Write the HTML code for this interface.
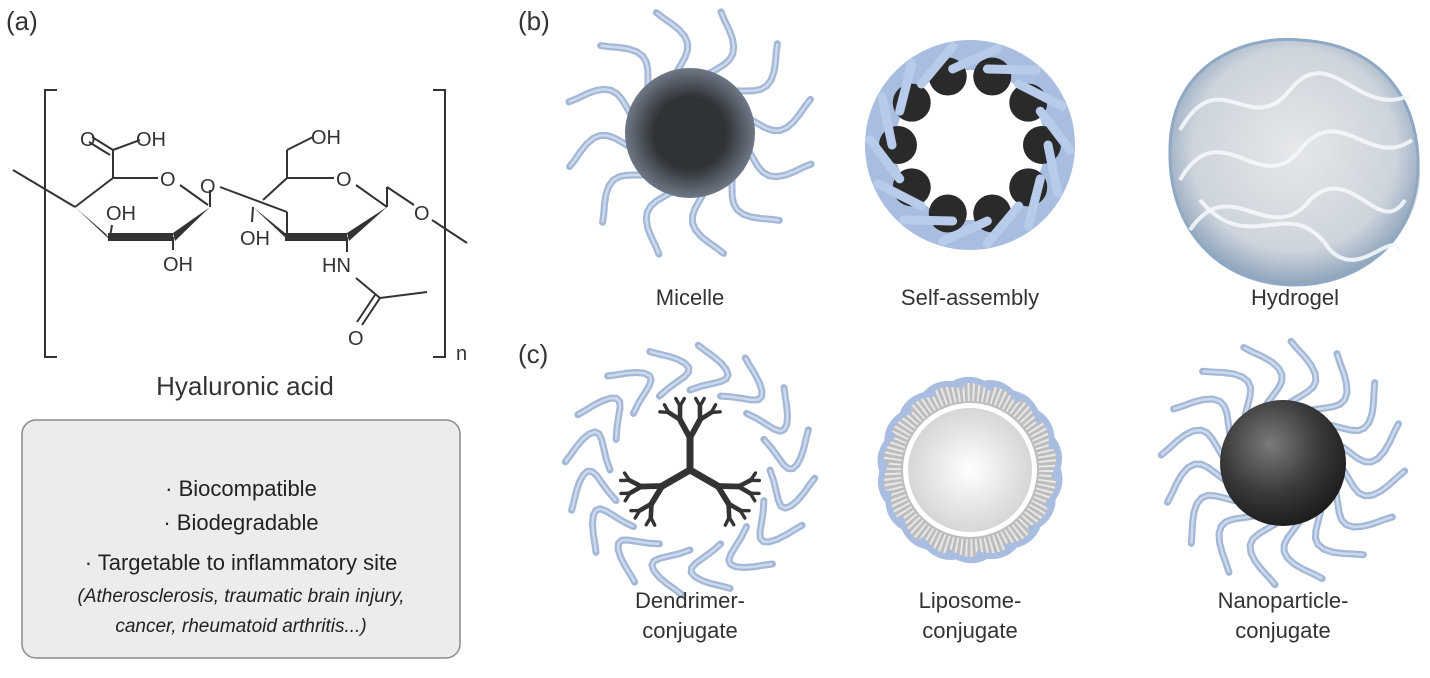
<!DOCTYPE html>
<html><head><meta charset="utf-8"><style>
body{margin:0;background:#fff;width:1430px;height:678px;overflow:hidden;font-family:"Liberation Sans",sans-serif;}
svg{position:absolute;left:0;top:0}
</style></head><body>
<svg id="s" width="1430" height="678" viewBox="0 0 1430 678" xmlns="http://www.w3.org/2000/svg">
<defs>
<radialGradient id="mic" cx="50%" cy="50%" r="50%"><stop offset="0.55" stop-color="#2f3236"/><stop offset="1" stop-color="#6e7885"/></radialGradient>
<radialGradient id="np" cx="40%" cy="35%" r="65%"><stop offset="0" stop-color="#7a7a7a"/><stop offset="0.6" stop-color="#3a3a3a"/><stop offset="1" stop-color="#1e1e1e"/></radialGradient>
<radialGradient id="lip" cx="50%" cy="50%" r="50%"><stop offset="0" stop-color="#ffffff"/><stop offset="1" stop-color="#d6d6d6"/></radialGradient>
<radialGradient id="hyd" cx="50%" cy="45%" r="55%"><stop offset="0" stop-color="#e6e8ea"/><stop offset="0.75" stop-color="#cdd4dc"/><stop offset="1" stop-color="#8ea4bb"/></radialGradient>
</defs>
<g font-size="26" fill="#333">
<text x="6" y="30">(a)</text><text x="518" y="30">(b)</text><text x="518" y="363">(c)</text>
</g>
<g stroke="#333" stroke-width="2" fill="none">
<polyline points="57,90 45,90 45,357 57,357"/>
<polyline points="433,90 445,90 445,357 433,357"/>
<line x1="13" y1="170" x2="75" y2="207"/>
<line x1="75" y1="207" x2="113" y2="178"/>
<line x1="113" y1="178" x2="158" y2="178"/>
<line x1="180" y1="185" x2="208" y2="205"/>
<line x1="113" y1="178" x2="113" y2="150"/>
<line x1="113" y1="150" x2="140" y2="140"/>
<line x1="113" y1="150" x2="92" y2="137"/><line x1="110" y1="155" x2="89" y2="142"/>
<line x1="110" y1="237" x2="112" y2="225"/>
<line x1="173" y1="237" x2="173" y2="250"/>
<line x1="210" y1="207" x2="210" y2="190"/>
<line x1="220" y1="187" x2="287" y2="212"/><line x1="287" y1="212" x2="287" y2="237"/>
<line x1="263" y1="200" x2="287" y2="178"/>
<line x1="287" y1="178" x2="334" y2="178"/>
<line x1="356" y1="185" x2="387" y2="207"/>
<line x1="287" y1="178" x2="287" y2="150"/><line x1="287" y1="150" x2="313" y2="137"/>
<line x1="253" y1="207" x2="252" y2="222"/>
<line x1="387" y1="207" x2="387" y2="187"/><line x1="387" y1="187" x2="414" y2="205"/>
<line x1="432" y1="220" x2="467" y2="243"/>
<line x1="347" y1="237" x2="347" y2="252"/>
<line x1="356" y1="278" x2="380" y2="298"/><line x1="380" y1="298" x2="427" y2="292"/>
<line x1="380" y1="298" x2="362" y2="325"/><line x1="375" y1="295" x2="357" y2="322"/>
</g>
<g fill="#333">
<polygon points="75,207 110,240 106,234"/>
<polygon points="108,233 173,233 173,241 108,241"/>
<polygon points="173,233 210,207 175,241"/>
<polygon points="253,207 289,241 285,233"/>
<polygon points="285,233 347,233 347,241 285,241"/>
<polygon points="347,233 387,207 349,241"/>
</g>
<g font-size="20" fill="#333">
<text x="80" y="146">O</text><text x="136" y="146">OH</text>
<text x="160" y="186">O</text><text x="200" y="193">O</text>
<text x="106" y="220">OH</text><text x="163" y="271">OH</text>
<text x="311" y="144">OH</text><text x="336" y="186">O</text>
<text x="240" y="245">OH</text><text x="414" y="220">O</text>
<text x="322" y="272">HN</text><text x="348" y="345">O</text>
<text x="456" y="360">n</text>
</g>
<text x="245" y="395" font-size="26" fill="#333" text-anchor="middle">Hyaluronic acid</text>
<rect x="22" y="420" width="438" height="238" rx="14" fill="#ececec" stroke="#8a8a8a" stroke-width="1.5"/>
<g font-size="22" fill="#222" text-anchor="middle">
<text x="241" y="496">· Biocompatible</text>
<text x="241" y="530">· Biodegradable</text>
<text x="241" y="570">· Targetable to inflammatory site</text>
<text x="241" y="602" font-size="19" font-style="italic">(Atherosclerosis, traumatic brain injury,</text>
<text x="241" y="632" font-size="19" font-style="italic">cancer, rheumatoid arthritis...)</text>
</g>
<g id="dyn"></g>
<g font-size="22" fill="#333" text-anchor="middle">
<text x="690" y="305">Micelle</text><text x="970" y="305">Self-assembly</text><text x="1295" y="305">Hydrogel</text>
<text x="690" y="608">Dendrimer-</text><text x="690" y="638">conjugate</text>
<text x="970" y="608">Liposome-</text><text x="970" y="638">conjugate</text>
<text x="1283" y="608">Nanoparticle-</text><text x="1283" y="638">conjugate</text>
</g>
</svg>
<script>
var g=document.getElementById('dyn'),NS='http://www.w3.org/2000/svg';
function el(t,a){var e=document.createElementNS(NS,t);for(var k in a)e.setAttribute(k,a[k]);g.appendChild(e);return e;}
function tail(cx,cy,r0,r1,ang,curl,w){var d='',n=10;for(var i=0;i<=n;i++){var t=i/n,r=r0+(r1-r0)*t,a=ang+curl*0.3*Math.sin(t*4)+curl*t*0.3;d+=(i?'L':'M')+(cx+r*Math.cos(a)).toFixed(1)+','+(cy+r*Math.sin(a)).toFixed(1);}
el('path',{d:d,stroke:'#a3b7d6',"stroke-width":w||7,fill:'none',"stroke-linecap":'round',"stroke-linejoin":'round'});el('path',{d:d,stroke:'#cdd9ec',"stroke-width":2.5,fill:'none'});}
for(var i=0;i<12;i++)tail(690,133,55,125,i*Math.PI/6+0.2,0.7);
el('circle',{cx:690,cy:133,r:65,fill:'url(#mic)'});
el('circle',{cx:970,cy:145,r:90,fill:'none',stroke:'#a8bde0',"stroke-width":30});
for(var i=0;i<10;i++){var a=i*Math.PI/5;el('circle',{cx:970+72*Math.cos(a),cy:145+72*Math.sin(a),r:19,fill:'#2a2a2a'});}
for(var i=0;i<14;i++){var a=i*Math.PI/7,b=a+0.5;el('path',{d:'M'+(970+78*Math.cos(a))+','+(145+78*Math.sin(a))+' L'+(970+100*Math.cos(b))+','+(145+100*Math.sin(b)),stroke:'#b8cbea',"stroke-width":9,"stroke-linecap":'round'});}
el('ellipse',{cx:1298,cy:175,rx:122,ry:105,fill:'#d8d8d8',opacity:0.8});
el('path',{d:'M1170,150 C1170,60 1250,35 1300,40 C1390,45 1420,110 1418,170 C1415,250 1350,285 1295,285 C1220,285 1168,230 1170,150Z',fill:'url(#hyd)',stroke:'#8fa8c4',"stroke-width":3});
['M1180,130 C1220,60 1250,140 1290,90 C1330,40 1360,120 1410,95','M1180,180 C1220,110 1260,200 1300,150 C1340,100 1370,170 1412,140','M1190,230 C1230,170 1270,250 1310,200 C1350,160 1380,240 1405,200','M1200,200 C1250,260 1290,190 1330,250 C1360,280 1390,230 1400,250'].forEach(function(d){el('path',{d:d,stroke:'#f4f7fb',"stroke-width":4,fill:'none',opacity:0.9});});
for(var i=0;i<16;i++)tail(690,470,80,125,i*Math.PI/8,0.9,7);
var dc='#333';function br(x,y,a,len,lv){var x2=x+len*Math.cos(a),y2=y+len*Math.sin(a);el('line',{x1:x,y1:y,x2:x2,y2:y2,stroke:dc,"stroke-width":7-lv*1.2,"stroke-linecap":'round'});if(lv<3){br(x2,y2,a-0.5,len*0.65,lv+1);br(x2,y2,a+0.5,len*0.65,lv+1);}}
for(var i=0;i<3;i++)br(690,470,-Math.PI/2+i*2*Math.PI/3,32,0);
el('circle',{cx:970,cy:470,r:78,fill:'none',stroke:'#bdbdbd',"stroke-width":22});
el('circle',{cx:970,cy:470,r:78,fill:'none',stroke:'#e8e8e8',"stroke-width":18,"stroke-dasharray":'2 3'});
el('circle',{cx:970,cy:470,r:62,fill:'url(#lip)'});
for(var i=0;i<18;i++){var a=i*Math.PI/9,b=a+0.45;el('path',{d:'M'+(970+88*Math.cos(a))+','+(470+88*Math.sin(a))+' Q'+(970+96*Math.cos(a+0.2))+','+(470+96*Math.sin(a+0.2))+' '+(970+84*Math.cos(b))+','+(470+84*Math.sin(b)),stroke:'#a8bde0',"stroke-width":6,fill:'none'});}
for(var i=0;i<16;i++)tail(1283,463,55,122,i*Math.PI/8,0.9,7);
el('circle',{cx:1283,cy:463,r:63,fill:'url(#np)'});
</script>
</body></html>
